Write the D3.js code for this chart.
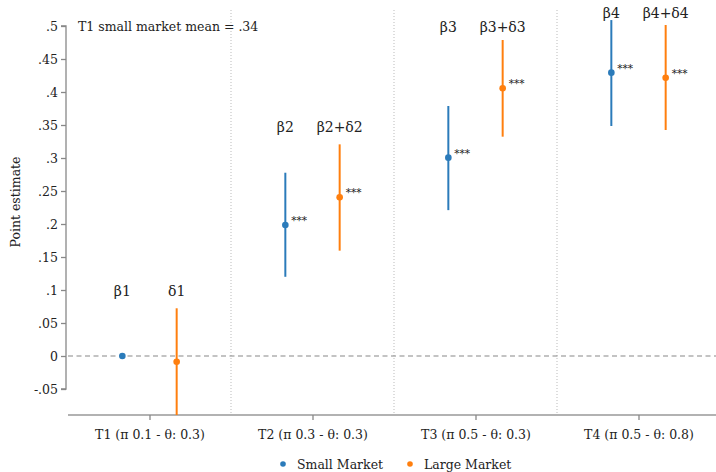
<!DOCTYPE html>
<html><head><meta charset="utf-8">
<script src="https://cdn.jsdelivr.net/npm/d3@7"></script>
<style>body{margin:0;background:#fff}svg{display:block}text{font-family:"DejaVu Serif","Noto Serif",serif;fill:#222}</style>
</head><body><svg id="c" width="716" height="472"></svg>
<script>
const categories = ["T1 (π 0.1 - θ: 0.3)","T2 (π 0.3 - θ: 0.3)","T3 (π 0.5 - θ: 0.3)","T4 (π 0.5 - θ: 0.8)"];
const smallEst = [0, 0.1985, 0.3005, 0.4293];
const smallLo  = [0, 0.120, 0.221, 0.3485];
const smallHi  = [0, 0.2777, 0.3788, 0.509];
const largeEst = [-0.0086, 0.2404, 0.4056, 0.4217];
const largeLo  = [-0.095, 0.1596, 0.3323, 0.3424];
const largeHi  = [0.0723, 0.3207, 0.4788, 0.5015];
const smallLabels = ["β1","β2","β3","β4"];
const largeLabels = ["δ1","β2+δ2","β3+δ3","β4+δ4"];
const labelY = [0.098, 0.347, 0.498, 0.52];
const smallStars = ["", "***", "***", "***"];
const largeStars = ["", "***", "***", "***"];
const yTicks = [-0.05,0,0.05,0.1,0.15,0.2,0.25,0.3,0.35,0.4,0.45,0.5];
const meanNote = "T1 small market mean = .34";
const seriesNames = ["Small Market","Large Market"];
const colors = ["#2b7bba","#ff7f0e"];

const svg = d3.select("#c");
const x = d3.scaleLinear().domain([0.5,4.5]).range([68,720]);
const y = d3.scaleLinear().domain([0,0.5]).range([356,26]);
const yBottom = 415, yTop = 10;
const off = 1/6;
const FF = '"DejaVu Serif","Noto Serif",serif';

const seps = [1.5,2.5,3.5];
svg.append("g").selectAll("line").data(seps).join("line")
  .attr("x1",d=>x(d)).attr("x2",d=>x(d)).attr("y1",yTop).attr("y2",yBottom)
  .attr("stroke","#bbb").attr("stroke-width",1).attr("stroke-dasharray","1,2");

svg.append("line").attr("x1",68).attr("x2",716).attr("y1",y(0)).attr("y2",y(0))
  .attr("stroke","#888").attr("stroke-width",1.2).attr("stroke-dasharray","5,3.5");

const yAxis = d3.axisLeft(y).tickValues(yTicks).tickSize(5).tickPadding(3)
  .tickFormat(d=>{ if(d===0) return "0"; let s=String(+d.toFixed(2)); return s.replace(/^(-?)0\./,"$1."); });
const ga = svg.append("g").attr("transform","translate(66,0)").call(yAxis).attr("font-family",FF);
ga.select(".domain").attr("stroke","#888").attr("stroke-width",1.3).attr("d",`M-5,${y(0.5)}H0V${y(-0.05)}H-5`);
ga.selectAll(".tick line").attr("stroke","#888").attr("stroke-width",1.3);
ga.selectAll("text").attr("font-size",12.5).attr("fill","#222");

const xAxis = d3.axisBottom(x).tickValues([1,2,3,4]).tickSize(5).tickPadding(10).tickFormat((d,i)=>categories[i]);
const gx = svg.append("g").attr("transform",`translate(0,${yBottom})`).call(xAxis).attr("font-family",FF);
gx.select(".domain").attr("stroke","#999").attr("stroke-width",1.6).attr("d","M68,0H716");
gx.selectAll(".tick line").attr("stroke","#888").attr("stroke-width",1.3);
gx.selectAll("text").attr("font-size",12.5).attr("fill","#222");

svg.append("text").attr("transform","translate(20,202) rotate(-90)").attr("text-anchor","middle")
  .attr("font-size",12.5).text("Point estimate");

svg.append("text").attr("x",78).attr("y",y(0.5)+5).attr("font-size",12.5).text(meanNote);

svg.append("clipPath").attr("id","pc").append("rect").attr("x",68).attr("y",0).attr("width",660).attr("height",yBottom);

function drawSeries(est,lo,hi,dx,color,stars,labels){
  const g = svg.append("g").attr("clip-path","url(#pc)");
  const idx = d3.range(est.length);
  g.selectAll("line.ci").data(idx.filter(i=>hi[i]!==lo[i])).join("line")
    .attr("x1",i=>x(i+1+dx)).attr("x2",i=>x(i+1+dx)).attr("y1",i=>y(lo[i])).attr("y2",i=>y(hi[i]))
    .attr("stroke",color).attr("stroke-width",2);
  g.selectAll("circle").data(idx).join("circle")
    .attr("cx",i=>x(i+1+dx)).attr("cy",i=>y(est[i])).attr("r",3.3).attr("fill",color);
  svg.append("g").selectAll("text").data(idx).join("text")
    .attr("x",i=>x(i+1+dx)+6).attr("y",i=>y(est[i])-1).attr("font-size",10.5).attr("fill","#333")
    .text(i=>stars[i]);
  svg.append("g").selectAll("text").data(idx).join("text")
    .attr("x",i=>x(i+1+dx)).attr("y",i=>y(labelY[i])+5).attr("text-anchor","middle").attr("font-size",14)
    .text(i=>labels[i]);
}
drawSeries(smallEst,smallLo,smallHi,-off,colors[0],smallStars,smallLabels);
drawSeries(largeEst,largeLo,largeHi,off,colors[1],largeStars,largeLabels);

const leg = svg.append("g");
const legX = [283,410];
seriesNames.forEach((n,i)=>{
  leg.append("circle").attr("cx",legX[i]).attr("cy",464).attr("r",2.8).attr("fill",colors[i]);
  leg.append("text").attr("x",legX[i]+14).attr("y",468.5).attr("font-size",12.5).text(n);
});
</script></body></html>
